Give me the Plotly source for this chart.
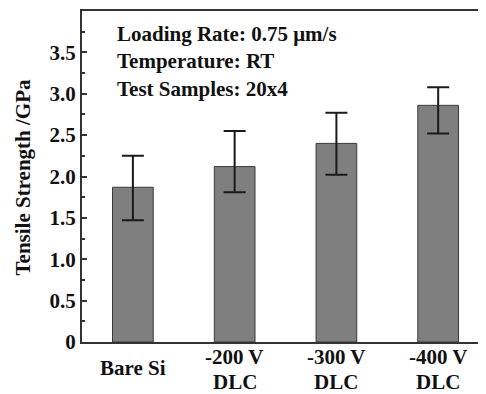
import plotly.graph_objects as go

categories = ["Bare Si", "-200 V<br>DLC", "-300 V<br>DLC", "-400 V<br>DLC"]
strength = [1.87, 2.12, 2.40, 2.86]
err_plus = [0.38, 0.43, 0.37, 0.22]
err_minus = [0.40, 0.31, 0.38, 0.34]
y_tickvals = [0, 0.5, 1.0, 1.5, 2.0, 2.5, 3.0, 3.5]
y_ticktext = ["0", "0.5", "1.0", "1.5", "2.0", "2.5", "3.0", "3.5"]
info_lines = ["Loading Rate: 0.75 μm/s", "Temperature: RT", "Test Samples: 20x4"]

FONT = "Liberation Serif"
FS = 21
fig = go.Figure()
fig.add_trace(go.Bar(
    x=list(range(len(categories))), y=strength, width=0.4,
    marker=dict(color="#7f7f7f", line=dict(color="#3a3a3a", width=1)),
    error_y=dict(type="data", symmetric=False, array=err_plus, arrayminus=err_minus,
                 color="#1a1a1a", thickness=2, width=11),
))

tf = dict(family=FONT, size=FS, color="#111", weight="bold")
fig.update_layout(
    width=478, height=386,
    margin=dict(l=74, r=0, t=3, b=52, autoexpand=False),
    plot_bgcolor="white", paper_bgcolor="white",
    showlegend=False,
    font=dict(family=FONT, size=FS, color="#111"),
    xaxis=dict(range=[-0.5, 3.47], tickvals=list(range(len(categories))),
               showticklabels=False,
               showline=True, linecolor="#333", linewidth=2, mirror=True,
               ticks="", showgrid=False, zeroline=False),
    yaxis=dict(range=[0, 4.0], tickvals=y_tickvals, ticktext=y_ticktext,
               showline=True, linecolor="#333", linewidth=2, mirror=False,
               ticks="inside", ticklen=5, tickwidth=1.5, tickcolor="#333",
               minor=dict(dtick=0.25, ticks="inside", ticklen=3, tickwidth=1.5, tickcolor="#333", tick0=0),
               showgrid=False, zeroline=False, tickfont=tf),
)

# category labels on the x axis (placed at the axis' category positions)
for i, label in enumerate(categories):
    lines = label.split("<br>")
    ys = [-0.0363] if len(lines) == 1 else [-0.003, -0.0785]
    for line, yy in zip(lines, ys):
        fig.add_annotation(
            text=f"<b>{line}</b>", xref="x", yref="paper", x=i, y=yy,
            xanchor="center", yanchor="top", showarrow=False,
            font=dict(family=FONT, size=FS, color="#111"),
        )

fig.add_annotation(
    text="<b>Tensile Strength /GPa</b>", textangle=-90,
    xref="paper", yref="paper", x=-0.146, y=0.497, xanchor="center", yanchor="middle",
    showarrow=False, font=dict(family=FONT, size=FS, color="#111"),
)
fig.add_annotation(
    text="<br>".join(f"<b>{t}</b>" for t in info_lines),
    xref="paper", yref="paper", x=0.082, y=0.973, xanchor="left", yanchor="top",
    align="left", showarrow=False, font=dict(family=FONT, size=FS, color="#111"),
)

fig.write_html("out.html")
